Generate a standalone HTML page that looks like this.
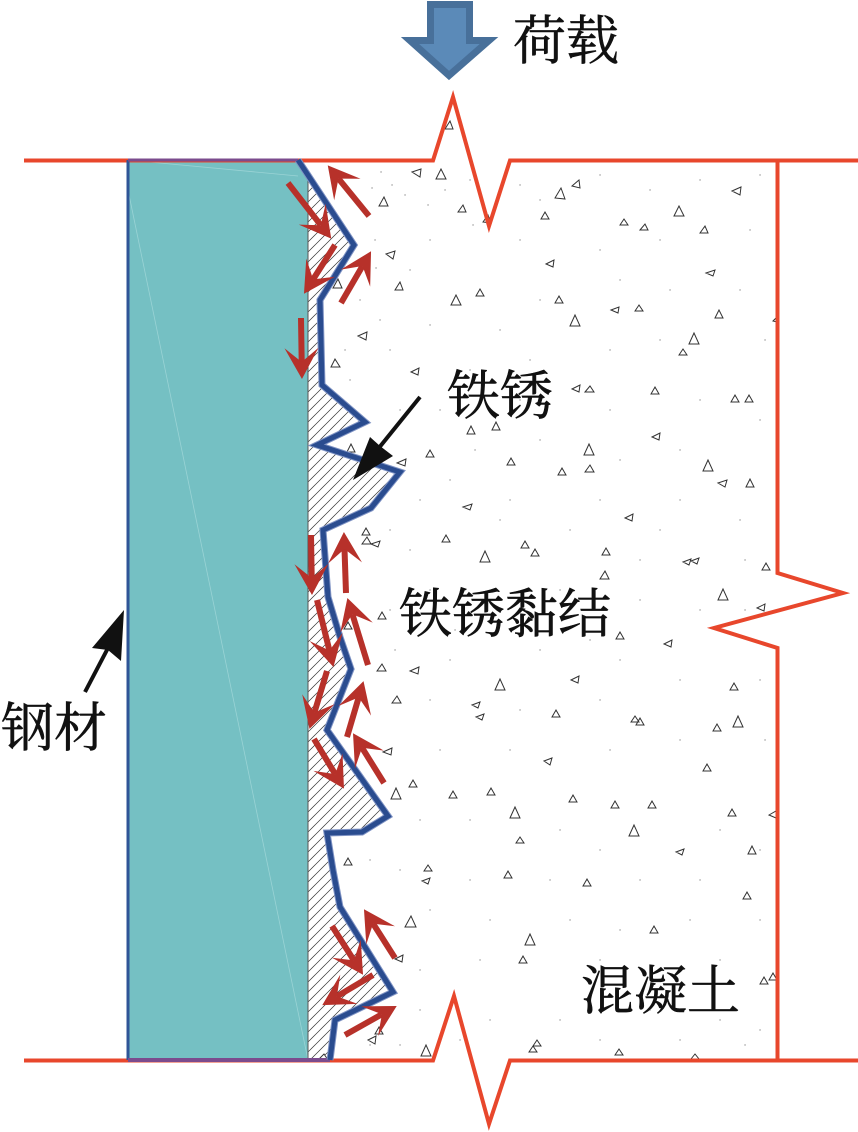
<!DOCTYPE html>
<html><head><meta charset="utf-8">
<style>
html,body{margin:0;padding:0;background:#fff}
svg{display:block}
text{font-family:"Liberation Serif","Noto Serif CJK SC",serif;font-size:53px;fill:#111;stroke:#111;stroke-width:.6}
</style></head><body>
<svg width="858" height="1132" viewBox="0 0 858 1132" xmlns="http://www.w3.org/2000/svg">
<defs>
<pattern id="h" patternUnits="userSpaceOnUse" width="10" height="10">
<path d="M-1 11L11 -1M-1 1L1 -1M9 11L11 9" stroke="#333" stroke-width=".7" fill="none"/>
</pattern>
<marker id="r" markerUnits="userSpaceOnUse" viewBox="-18 -20 38 40" markerWidth="38" markerHeight="40" refX="0" refY="0" orient="auto">
<path d="M17 0L-14 -17L0 0L-14 17Z" fill="#b7312a"/>
</marker>
</defs>

<!-- concrete dots -->
<path fill="none" stroke="#999" stroke-width="1.4" stroke-linecap="round" d="M381 172h.1M392 185h.1M372 188h.1M405 195h.1M428 205h.1M445 190h.1M470 180h.1M473 225h.1M520 185h.1M540 200h.1M600 175h.1M650 190h.1M700 180h.1M760 175h.1M750 230h.1M660 240h.1M600 250h.1M520 240h.1M430 240h.1M410 270h.1M375 240h.1M376 268h.1M360 300h.1M380 320h.1M430 325h.1M500 330h.1M540 300h.1M620 280h.1M670 290h.1M740 290h.1M765 340h.1M660 340h.1M610 350h.1M530 360h.1M470 370h.1M390 350h.1M345 350h.1M350 380h.1M400 410h.1M440 410h.1M520 400h.1M610 410h.1M700 400h.1M760 420h.1M680 450h.1M620 460h.1M540 440h.1M450 480h.1M420 500h.1M510 500h.1M600 500h.1M680 500h.1M740 520h.1M660 530h.1M570 530h.1M500 520h.1M410 550h.1M390 530h.1M640 560h.1M745 560h.1M560 590h.1M640 600h.1M700 610h.1M745 610h.1M620 660h.1M540 650h.1M450 660h.1M395 650h.1M430 700h.1M520 710h.1M600 700h.1M680 680h.1M760 680h.1M765 740h.1M680 740h.1M610 750h.1M510 750h.1M440 750h.1M420 820h.1M470 820h.1M560 830h.1M600 850h.1M720 830h.1M760 850h.1M700 880h.1M640 880h.1M550 880h.1M470 880h.1M400 870h.1M370 860h.1M430 910h.1M490 920h.1M570 920h.1M620 930h.1M690 920h.1M760 920h.1M720 960h.1M600 960h.1M480 960h.1M420 970h.1M420 1010h.1M490 1020h.1M560 1020h.1M650 1010h.1M720 1020h.1M760 1030h.1M400 1045h.1M370 1045h.1M460 1040h.1M600 1040h.1M680 1040h.1M745 1045h.1M350 1060h.1M548 390h.1M475 450h.1M365 512h.1M430 590h.1M390 610h.1M455 630h.1M590 640h.1M350 830h.1M355 1030h.1"/>

<!-- steel -->
<path d="M128 160H298L308 178V1060H128Z" fill="#75c0c3"/>
<path d="M128 190L308 1060M128 160L298 176" stroke="#9ad3d5" stroke-width=".8" fill="none"/>

<!-- rust hatch -->
<path d="M308 178L298 160L354 245L320 300L322 385L365 422L317 445L400 472L371 508L323 530L328 597L340 637L351 669L327 730L388 816L362 832L327 833L333 870L340 907L393 992L335 1020L330 1060H308Z" fill="url(#h)"/>
<path d="M308 178V1060" stroke="#555" stroke-width="1" fill="none"/>

<!-- small triangles -->
<g fill="#fff" stroke="#333" stroke-width="1" stroke-linejoin="miter">
<path d="M445 129l5-8 3 8zM412 172l9-3-1 8zM436 179l5-10 5 10zM483 222l5-7 3 8zM458 212l5-7 3 7zM541 219l4-7 4 7zM732 191l9-4-1 8zM620 225l4-6 4 6zM640 230l5-6 3 6zM700 233l5-7 3 7zM546 264l8-4-1 7zM706 273l9-3-2 6zM379 206l5-9 4 9zM386 254l9-3-2 8zM395 290l5-8 3 8zM333 288l5-9 4 9zM358 336l9-4-1 8zM331 367l4-8 5 8zM411 372l8-4-1 7zM476 296l4-7 4 7zM555 303l4-7 4 7zM611 310l8-3-1 6zM635 311l4-6 4 6zM715 318l4-8 4 8zM773 321l4-4v5zM679 355l4-6 4 6zM572 389l8-4-1 7zM585 392l5-6 4 6zM651 394l4-7 4 7zM731 402l4-7 4 7zM745 402l4-7 4 7zM467 434l4-8 4 8zM492 430l4-8 4 8zM652 437l8-4-1 7zM426 457l4-7 4 7zM397 463l9-4-1 7zM347 452l4-8 4 8zM507 465l4-7 4 7zM585 472l5-7 4 7zM558 475l4-7 4 7zM718 483l9-3-2 7zM746 487l4-8 4 8zM463 507l9-3-2 6zM625 518l8-4-1 7zM362 535l4-7 4 7zM362 544l5-7 4 7zM371 544l9-3-2 6zM442 542l4-7 4 7zM521 548l4-7 4 7zM531 556l4-7 4 7zM602 555l4-7 4 7zM683 562l8-3-2 6zM691 561l8-3-2 6zM762 570l4-7 4 7zM600 579l5-8 4 8zM757 608l8-4-1 7zM378 619l4-7 4 7zM344 629l4-7 4 7zM616 639l4-7 4 7zM664 644l8-4-1 7zM377 671l5-7 4 7zM410 671l9-4-1 7zM392 703l5-7 4 7zM571 680l8-4-1 7zM730 690l4-7 4 7zM472 705l8-3-2 6zM476 717l8-3-2 6zM552 717l4-7 4 7zM631 722l4-6 4 6zM636 725l4-7 4 7zM713 731l4-7 4 7zM544 761l8-3-2 7zM703 771l4-7 4 7zM383 752l9-4-1 7zM409 787l4-7 4 7zM449 798l4-7 4 7zM487 795l4-7 4 7zM569 802l4-7 4 7zM611 808l4-7 4 7zM648 808l4-7 4 7zM728 816l4-7 4 7zM769 815l7-4v7zM344 865l4-7 4 7zM516 843l4-6 4 6zM676 852l8-3-2 6zM748 854l4-8 4 8zM424 871l4-6 4 6zM422 881l8-3-2 6zM504 878l4-7 4 7zM583 886l4-7 4 7zM743 899l4-7 4 7zM650 933l4-7 4 7zM395 959l8-4-1 7zM519 963l4-7 4 7zM375 1034l4-7 4 7zM368 1040l8-4-1 8zM769 980l4-7 4 7zM760 984l4-7 4 7zM533 1046l4-6 4 6zM529 1052l4-6 4 6zM615 1055l4-6 4 6zM691 1059l4-5 4 5zM318 1060l6-6 4 6z"/>
<path d="M555 198l6-10 4 11zM572 186l7-6 1 8zM674 216l5-10 5 10zM451 305l5-10 5 10zM570 326l5-11 5 11zM689 344l5-11 5 11zM584 455l5-11 5 11zM703 471l5-11 5 11zM480 562l5-11 5 11zM718 600l5-11 5 11zM495 690l5-11 5 11zM733 727l5-11 5 11zM391 799l5-11 5 11zM510 818l5-11 5 11zM629 836l5-11 5 11zM405 927l6-11 5 11zM525 945l5-11 5 11zM421 1056l5-11 5 11z"/>
</g>

<!-- red concrete outline -->
<g fill="none" stroke="#e8472c" stroke-width="4" stroke-linejoin="miter" stroke-miterlimit="10">
<path d="M24 160.500H433L453 97L489 226L510 160.500H858"/>
<path d="M24 1060.500H433L454 996L489 1124L510 1060.500H858"/>
<path d="M777.500 160V573L843 593L714 628L777.500 648V1060"/>
</g>

<!-- steel edges -->
<path d="M128 1060V160" stroke="#2f5597" stroke-width="3" fill="none"/>
<path d="M128 160H298" stroke="#7b4b8e" stroke-width="3" fill="none"/>
<path d="M128 1060H330" stroke="#7b4b8e" stroke-width="4" fill="none"/>

<!-- rust/concrete profile -->
<path d="M298 160L354 245L320 300L322 385L365 422L317 445L400 472L371 508L323 530L328 597L340 637L351 669L327 730L388 816L362 832L327 833L333 870L340 907L393 992L335 1020L330 1060" fill="none" stroke="#7f93c4" stroke-width="7" stroke-linejoin="miter" stroke-miterlimit="6"/>
<path d="M298 160L354 245L320 300L322 385L365 422L317 445L400 472L371 508L323 530L328 597L340 637L351 669L327 730L388 816L362 832L327 833L333 870L340 907L393 992L335 1020L330 1060" fill="none" stroke="#2a4c8f" stroke-width="5" stroke-linejoin="miter" stroke-miterlimit="6"/>

<!-- red arrows -->
<g stroke="#b7312a" stroke-width="6" fill="none">
<line x1="288" y1="183" x2="320.800" y2="225.200" marker-end="url(#r)"/>
<line x1="369" y1="216" x2="338.500" y2="178.600" marker-end="url(#r)"/>
<line x1="335" y1="245" x2="313.100" y2="279.400" marker-end="url(#r)"/>
<line x1="341" y1="303" x2="362.500" y2="266" marker-end="url(#r)"/>
<line x1="301" y1="318" x2="301.700" y2="362" marker-end="url(#r)"/>
<line x1="311" y1="535" x2="311.700" y2="578" marker-end="url(#r)"/>
<line x1="346" y1="593" x2="344.500" y2="549" marker-end="url(#r)"/>
<line x1="317" y1="600" x2="329.400" y2="650.500" marker-end="url(#r)"/>
<line x1="368" y1="665" x2="352.400" y2="614.300" marker-end="url(#r)"/>
<line x1="327" y1="671" x2="314.400" y2="712.600" marker-end="url(#r)"/>
<line x1="347" y1="737" x2="358.700" y2="697.400" marker-end="url(#r)"/>
<line x1="314" y1="739" x2="335.200" y2="774.100" marker-end="url(#r)"/>
<line x1="384" y1="783" x2="362" y2="747.700" marker-end="url(#r)"/>
<line x1="332" y1="926" x2="353.900" y2="960.400" marker-end="url(#r)"/>
<line x1="395" y1="958" x2="373.100" y2="923.600" marker-end="url(#r)"/>
<line x1="373" y1="975" x2="336.900" y2="996.400" marker-end="url(#r)"/>
<line x1="345" y1="1035" x2="381.900" y2="1014.300" marker-end="url(#r)"/>
</g>

<!-- black arrows -->
<path d="M420 397L378 449" stroke="#111" stroke-width="4" fill="none"/>
<path d="M353 480L370 437L380 446L393 456Z" fill="#111"/>
<path d="M85 692L108 648" stroke="#111" stroke-width="4" fill="none"/>
<path d="M124 610L121 661L108 650L92 648Z" fill="#111"/>

<!-- load arrow -->
<path d="M430.500 4.500H469.500V40.500H489L449 75.500L410 40.500H430.500Z" fill="#5b8ab8" stroke="#48709a" stroke-width="7" stroke-linejoin="miter"/>

<!-- labels -->
<text x="513" y="59">荷载</text>
<text x="447" y="414">铁锈</text>
<text x="399" y="632">铁锈黏结</text>
<text x="1" y="746">钢材</text>
<text x="581" y="1009">混凝土</text>
</svg>
</body></html>
